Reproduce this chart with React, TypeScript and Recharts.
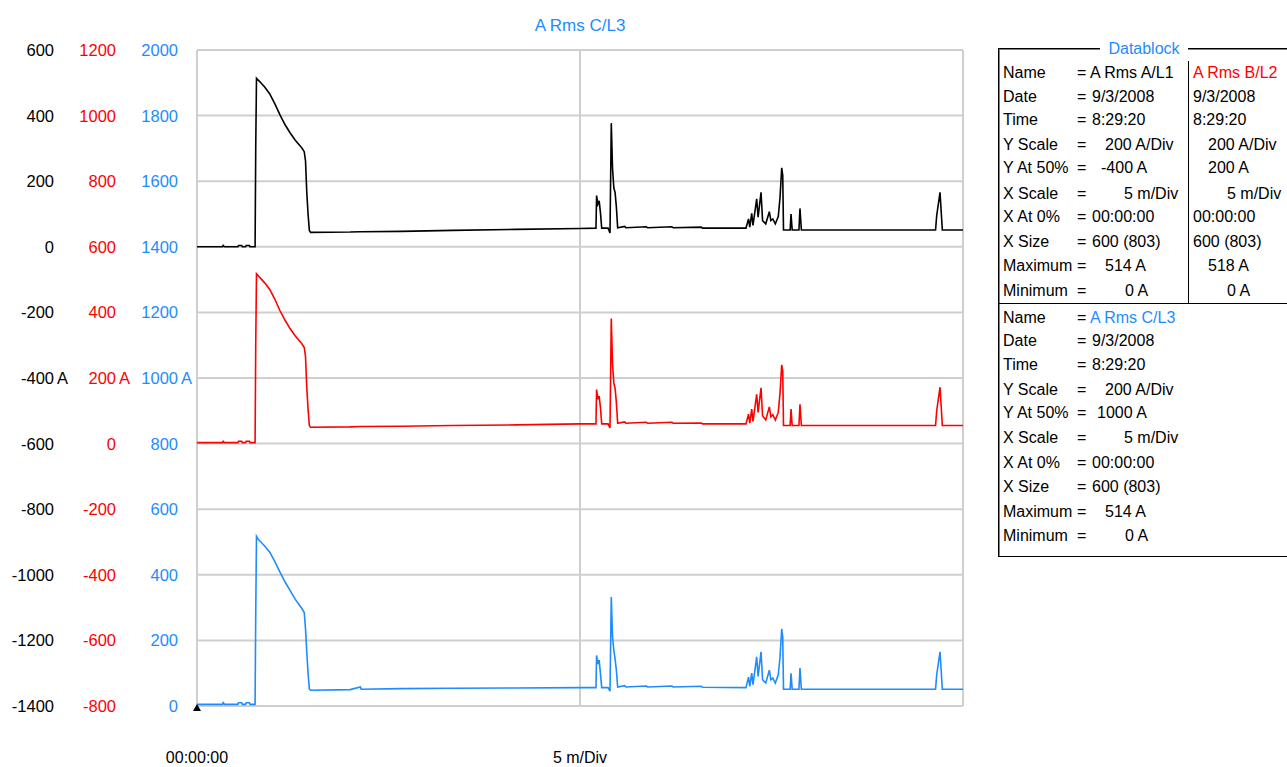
import React from 'react';
import { LineChart, Line, XAxis, YAxis, CartesianGrid, ReferenceDot } from 'recharts';

const FONT = '"Liberation Sans", Arial, sans-serif';
const BLACK = '#000000';
const RED = '#ff0000';
const BLUE = '#1e8cff';
const GRID = '#cfcfcf';

// time in seconds (0..600 = 10 min, 5 m/Div)
const times = [
  0, 20, 20.5, 21.5, 32, 32.5, 35, 35.5, 38, 38.5,
  41, 41.5, 45.5, 46, 46.6, 48, 50, 53, 57, 61,
  65, 69, 73, 77, 82, 84, 85, 86, 87, 88,
  89, 120, 128, 128.6, 160, 200, 250, 300, 312.5, 313,
  314, 315, 316, 317, 322, 323.5, 324.5, 325.5, 326.5, 327.5,
  328.5, 329.5, 335, 336, 352, 353, 372, 373, 395, 396,
  430, 432, 433, 434.5, 435.5, 438.4, 439.5, 441.8, 443, 445.5,
  448.3, 449.5, 451, 453, 455.3, 456.7, 458, 458.8, 459.4, 464.6,
  465.3, 466.2, 471.5, 472.3, 473.4, 578.5, 579.4, 582, 583.8, 600,
];

const ampsA = [
  0, 0, 4, 0, 0, 4, 4, 0, 0, 4,
  4, 0, 0, 300, 514, 508, 500, 487, 466, 436,
  402, 372, 347, 325, 302, 290, 262, 165, 100, 50,
  44, 45, 46, 46, 47, 50, 53, 56, 57, 156,
  130, 140, 105, 57, 57, 42, 377, 237, 180, 165,
  121, 58, 62, 58, 61, 58, 61, 58, 60, 57,
  57, 85, 60, 102, 65, 146, 90, 166, 80, 70,
  107, 80, 85, 70, 92, 151, 241, 218, 51, 51,
  100, 51, 51, 117, 51, 51, 95, 166, 51, 51,
];

const ampsB = [
  3, 3, 7, 3, 3, 7, 7, 3, 3, 7,
  7, 3, 3, 300, 518, 512, 503, 490, 470, 440,
  405, 376, 350, 328, 305, 293, 265, 170, 105, 55,
  50, 51, 52, 52, 53, 55, 57, 60, 60, 165,
  135, 145, 110, 60, 60, 48, 381, 240, 185, 168,
  125, 62, 66, 62, 65, 62, 65, 62, 63, 60,
  60, 90, 62, 105, 68, 150, 95, 170, 85, 72,
  112, 82, 88, 72, 95, 155, 240, 220, 55, 55,
  105, 55, 55, 120, 55, 55, 100, 172, 55, 55,
];

const ampsC = [
  5, 5, 10, 5, 5, 10, 10, 5, 5, 10,
  10, 5, 5, 280, 517, 508, 500, 488, 469, 440,
  408, 378, 352, 325, 298, 285, 235, 164, 100, 52,
  48, 50, 58, 51, 53, 54, 55, 56, 56, 154,
  128, 140, 100, 56, 56, 45, 332, 210, 170, 143,
  109, 58, 62, 58, 61, 58, 61, 58, 60, 57,
  56, 88, 60, 100, 65, 150, 90, 165, 80, 70,
  109, 80, 85, 70, 95, 150, 235, 210, 51, 51,
  100, 51, 51, 116, 51, 51, 95, 165, 51, 51,
];

const ticksA = [-1400, -1200, -1000, -800, -600, -400, -200, 0, 200, 400, 600];
const ticksB = [-800, -600, -400, -200, 0, 200, 400, 600, 800, 1000, 1200];
const ticksC = [0, 200, 400, 600, 800, 1000, 1200, 1400, 1600, 1800, 2000];
const unitTickA = -400;
const unitTickB = 200;
const unitTickC = 1000;
const unitSuffix = 'A';

const xTicks = [0, 300, 600];
const xTickLabels = ['00:00:00', '5 m/Div', ''];

const chartTitle = 'A Rms C/L3';
const dbTitle = 'Datablock';
const dbLabels = ['Name', 'Date', 'Time', 'Y Scale', 'Y At 50%', 'X Scale', 'X At 0%', 'X Size', 'Maximum', 'Minimum'];
const dbValuesA = ['A Rms A/L1', '9/3/2008', '8:29:20', '200 A/Div', '-400 A', '5 m/Div', '00:00:00', '600 (803)', '514 A', '0 A'];
const dbValuesB = ['A Rms B/L2', '9/3/2008', '8:29:20', '200 A/Div', '200 A', '5 m/Div', '00:00:00', '600 (803)', '518 A', '0 A'];
const dbValuesC = ['A Rms C/L3', '9/3/2008', '8:29:20', '200 A/Div', '1000 A', '5 m/Div', '00:00:00', '600 (803)', '514 A', '0 A'];

const data = times.map((t, i) => ({ t, a: ampsA[i], b: ampsB[i], c: ampsC[i] }));

// layout (page px)
const rowY1 = [73, 97, 120, 145, 168, 194, 217, 242, 266, 291];
const rowY2 = [318, 341, 365, 390, 413, 438, 463, 487, 512, 536];
const valX1 = [1090, 1092, 1092, 1105, 1101, 1124, 1092, 1092, 1105, 1125];
const valX2 = [1193, 1193, 1193, 1208, 1208, 1227, 1193, 1193, 1208, 1227];
const valX3 = [1090, 1092, 1092, 1105, 1097, 1124, 1092, 1092, 1105, 1125];

const makeTick = (color: string, unitValue: number) => (props: any) => {
  const { x, y, payload } = props;
  return (
    <g>
      <text x={x} y={y} dy="0.36em" textAnchor="end" fill={color} fontSize={16.5} fontFamily={FONT}>
        {String(payload.value)}
      </text>
      {payload.value === unitValue && (
        <text x={x + 3} y={y} dy="0.36em" textAnchor="start" fill={color} fontSize={16.5} fontFamily={FONT}>
          {unitSuffix}
        </text>
      )}
    </g>
  );
};

const Tri = (p: any) => {
  const { cx, cy } = p;
  return <path d={`M${cx - 4},${cy + 5} L${cx + 4},${cy + 5} L${cx},${cy - 2} Z`} fill="#000" />;
};

const txt = (left: number, centerY: number, s: string, color = '#000', key?: string) => (
  <div
    key={key}
    style={{
      position: 'absolute',
      left,
      top: centerY - 12,
      height: 24,
      lineHeight: '24px',
      fontSize: 16,
      color,
      whiteSpace: 'pre',
    }}
  >
    {s}
  </div>
);

export default function App() {
  return (
    <div
      style={{
        position: 'absolute',
        left: 0,
        top: 0,
        width: 1287,
        height: 767,
        overflow: 'hidden',
        background: '#fff',
        fontFamily: FONT,
      }}
    >
      <LineChart
        width={1287}
        height={767}
        data={data}
        margin={{ top: 50, right: 324, bottom: 6, left: 11 }}
      >
        <CartesianGrid yAxisId="y1" stroke={GRID} strokeWidth={2} />
        <XAxis
          dataKey="t"
          type="number"
          domain={[0, 600]}
          ticks={xTicks}
          tickFormatter={(v: number) => xTickLabels[xTicks.indexOf(v)] ?? ''}
          axisLine={false}
          tickLine={false}
          tickSize={0}
          tickMargin={46}
          height={55}
          tick={{ fill: '#000', fontSize: 16, fontFamily: FONT }}
          interval={0}
        />
        <YAxis
          yAxisId="y1"
          domain={[0, 2000]}
          ticks={ticksC}
          width={62}
          axisLine={false}
          tickLine={false}
          tickSize={0}
          tickMargin={19}
          interval={0}
          tick={makeTick(BLUE, unitTickC)}
        />
        <YAxis
          yAxisId="y2"
          domain={[-800, 1200]}
          ticks={ticksB}
          width={62}
          axisLine={false}
          tickLine={false}
          tickSize={0}
          tickMargin={19}
          interval={0}
          tick={makeTick(RED, unitTickB)}
        />
        <YAxis
          yAxisId="y3"
          domain={[-1400, 600]}
          ticks={ticksA}
          width={62}
          axisLine={false}
          tickLine={false}
          tickSize={0}
          tickMargin={19}
          interval={0}
          tick={makeTick(BLACK, unitTickA)}
        />
        <Line yAxisId="y3" dataKey="a" type="linear" stroke={BLACK} strokeWidth={1.6} dot={false} isAnimationActive={false} />
        <Line yAxisId="y2" dataKey="b" type="linear" stroke={RED} strokeWidth={1.6} dot={false} isAnimationActive={false} />
        <Line yAxisId="y1" dataKey="c" type="linear" stroke={BLUE} strokeWidth={1.6} dot={false} isAnimationActive={false} />
        <ReferenceDot yAxisId="y1" x={0} y={0} r={4} shape={Tri} ifOverflow="visible" />
      </LineChart>

      {/* title */}
      <div
        style={{
          position: 'absolute',
          left: 480,
          top: 15,
          width: 200,
          textAlign: 'center',
          fontSize: 17,
          lineHeight: '22px',
          color: BLUE,
        }}
      >
        {chartTitle}
      </div>

      {/* datablock */}
      <div
        style={{
          position: 'absolute',
          left: 998,
          top: 48,
          width: 320,
          height: 509,
          border: '1px solid #000',
          boxShadow: 'inset 1px 1px 0 #808080',
          boxSizing: 'border-box',
        }}
      />
      <div style={{ position: 'absolute', left: 998, top: 303, width: 300, height: 0, borderTop: '1px solid #000' }} />
      <div style={{ position: 'absolute', left: 1188, top: 61, width: 0, height: 242, borderLeft: '1px solid #000' }} />
      <div
        style={{
          position: 'absolute',
          left: 1100,
          top: 38,
          width: 88,
          textAlign: 'center',
          background: '#fff',
          fontSize: 16,
          lineHeight: '22px',
          color: BLUE,
        }}
      >
        {dbTitle}
      </div>
      {dbLabels.map((l, i) => txt(1003, rowY1[i], l, '#000', 'l1' + i))}
      {dbLabels.map((l, i) => txt(1077, rowY1[i], '=', '#000', 'e1' + i))}
      {dbValuesA.map((v, i) => txt(valX1[i], rowY1[i], v, '#000', 'v1' + i))}
      {dbValuesB.map((v, i) => txt(valX2[i], rowY1[i], v, i === 0 ? RED : '#000', 'v2' + i))}
      {dbLabels.map((l, i) => txt(1003, rowY2[i], l, '#000', 'l2' + i))}
      {dbLabels.map((l, i) => txt(1077, rowY2[i], '=', '#000', 'e2' + i))}
      {dbValuesC.map((v, i) => txt(valX3[i], rowY2[i], v, i === 0 ? BLUE : '#000', 'v3' + i))}
    </div>
  );
}
